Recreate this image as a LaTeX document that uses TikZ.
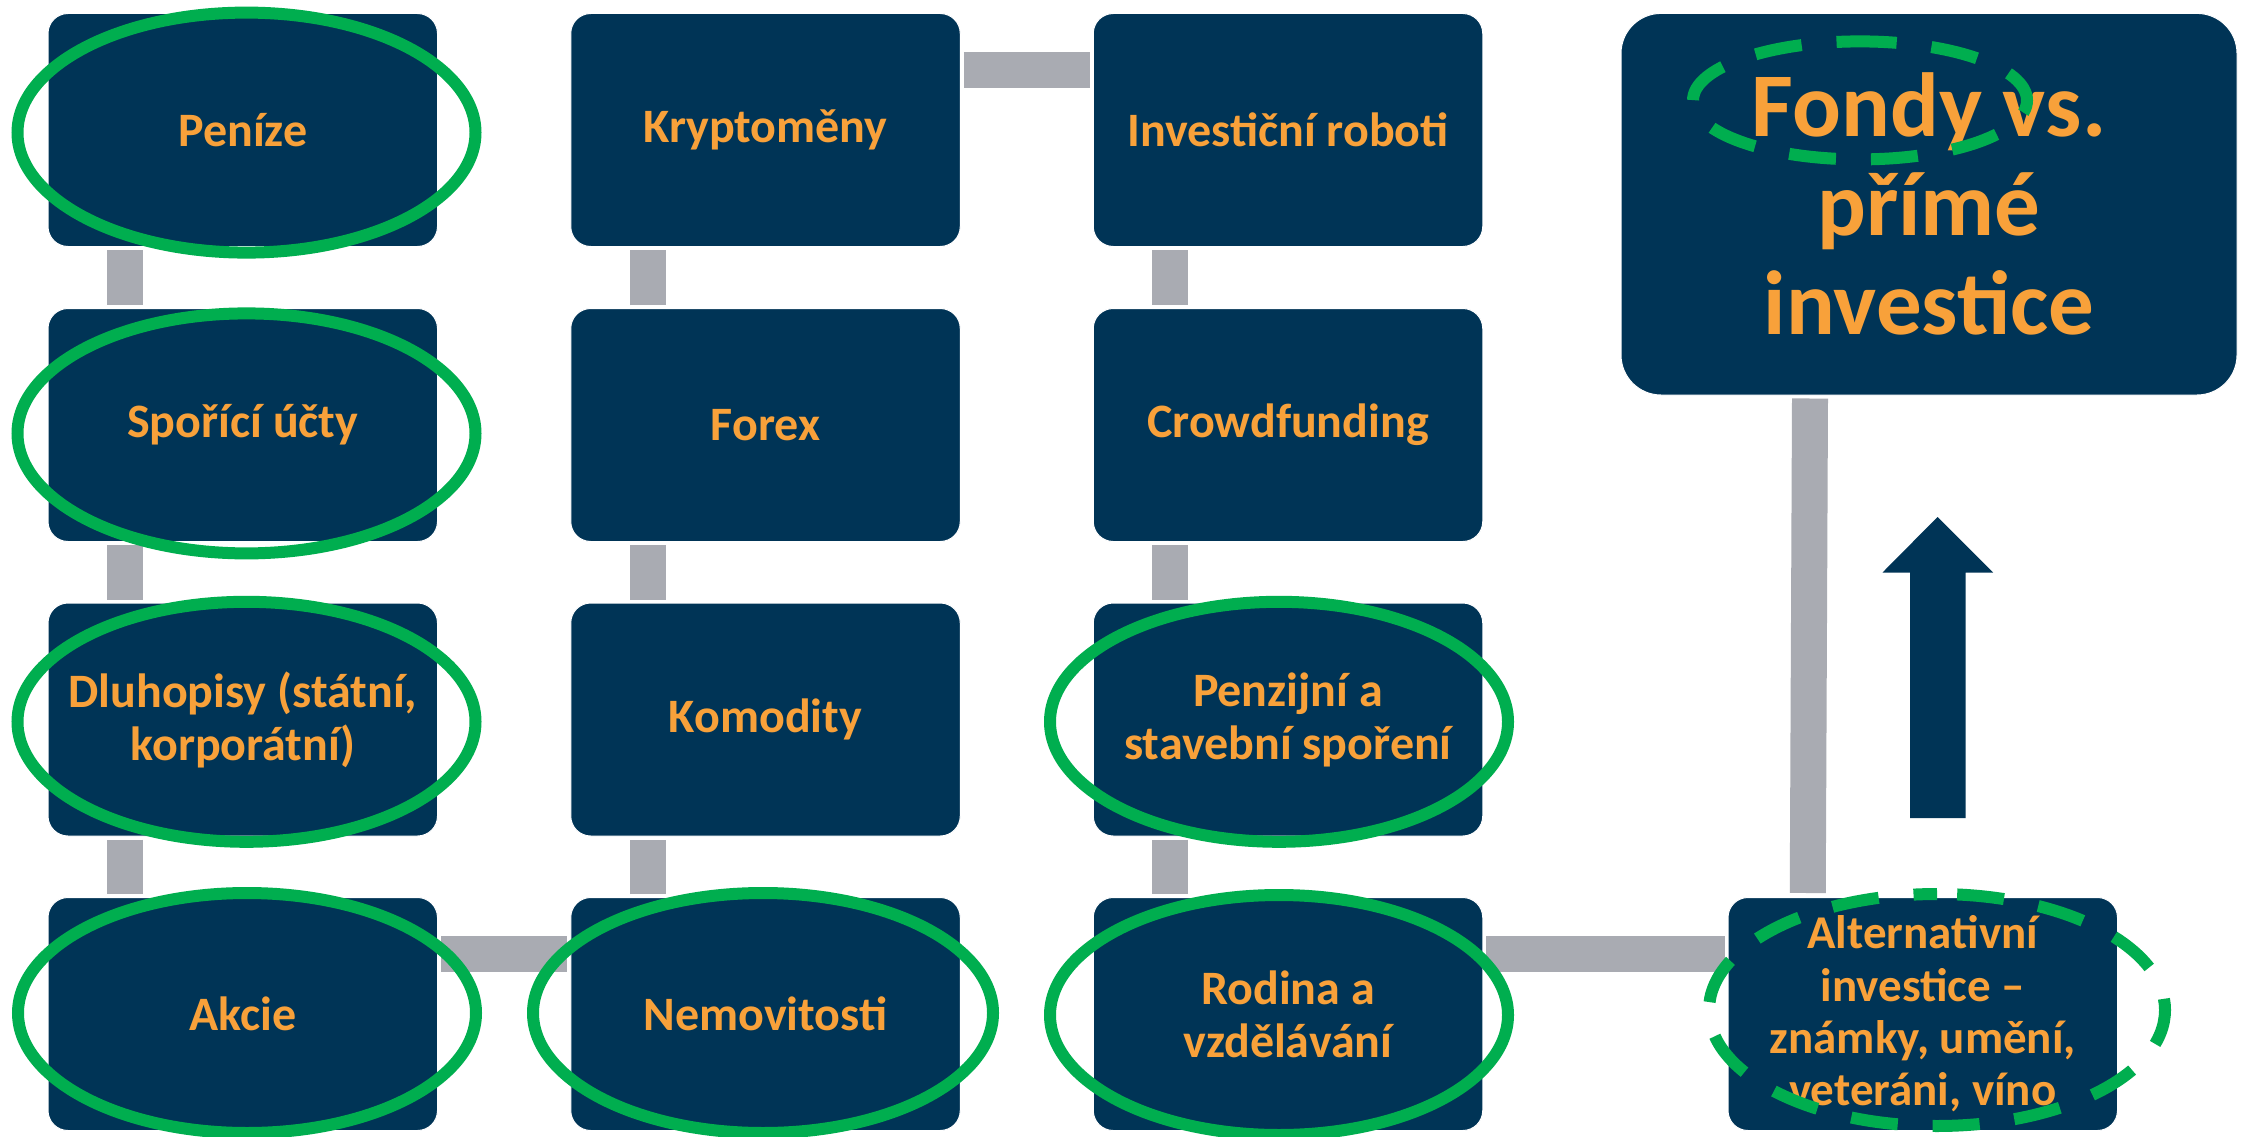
\documentclass[tikz,border=0pt]{standalone}
\usepackage{fontspec}
\setmainfont{Carlito}
\usetikzlibrary{calc}
\definecolor{navy}{HTML}{003456}
\definecolor{orng}{HTML}{F8A13A}
\definecolor{grn}{HTML}{00AE4F}
\definecolor{conn}{HTML}{A9ABB2}
\begin{document}
\begin{tikzpicture}[x=1pt,y=-1pt,
  box/.style={rectangle, rounded corners=20pt, fill=navy, draw=white, line width=1pt,
    minimum width=389.5pt, minimum height=233pt, inner sep=0pt, text=orng, align=center,
    font=\bfseries\fontsize{48}{53}\selectfont},
  link/.style={draw=conn, line width=36pt, line cap=butt},
  ring/.style={draw=grn, line width=12pt},
  dring/.style={draw=grn, line width=12pt, dash pattern=on 47pt off 35pt, dash phase=23.5pt}]
\clip (0,0) rectangle (2241,1137);
\fill[white] (0,0) rectangle (2241,1137);

% boxes
\node[box] (penize) at (242.75,130) {Peníze};
\node[box] (sporici) at (242.75,425) {Spořící účty};
\node[box] (dluhopisy) at (242.75,719.5) {Dluhopisy (státní,\\korporátní)};
\node[box] (akcie) at (242.75,1014) {Akcie};
\node[box] (krypto) at (765.5,130) {Kryptoměny};
\node[box] (forex) at (765.5,425) {Forex};
\node[box] (komodity) at (765.5,719.5) {Komodity};
\node[box] (nemovitosti) at (765.5,1014) {Nemovitosti};
\node[box] (roboti) at (1288,130) {Investiční roboti};
\node[box] (crowd) at (1288,425) {Crowdfunding};
\node[box] (penzijni) at (1288,719.5) {Penzijní a\\stavební spoření};
\node[box] (rodina) at (1288,1014) {Rodina a\\vzdělávání};
\node[box, font=\bfseries\fontsize{47}{52.4}\selectfont] (alt) at (1922.75,1014)
  {Alternativní\\investice –\\známky, umění,\\veteráni, víno};
\node[box, minimum width=616pt, minimum height=381.6pt, rounded corners=40pt,
  font=\bfseries\fontsize{91}{99}\selectfont] (fondy) at (1929,204.2)
  {Fondy vs.\\přímé\\investice};

% connectors
\draw[link] ($(penize.south)+(-118,3)$) -- ($(sporici.north)+(-118,-3)$);
\draw[link] ($(sporici.south)+(-118,3)$) -- ($(dluhopisy.north)+(-118,-3)$);
\draw[link] ($(dluhopisy.south)+(-118,3)$) -- ($(akcie.north)+(-118,-3)$);
\draw[link] ($(akcie.east)+(3,-60)$) -- ($(nemovitosti.west)+(-3,-60)$);
\draw[link] ($(nemovitosti.north)+(-118,-3)$) -- ($(komodity.south)+(-118,3)$);
\draw[link] ($(komodity.north)+(-118,-3)$) -- ($(forex.south)+(-118,3)$);
\draw[link] ($(forex.north)+(-118,-3)$) -- ($(krypto.south)+(-118,3)$);
\draw[link] ($(krypto.east)+(3,-60)$) -- ($(roboti.west)+(-3,-60)$);
\draw[link] ($(roboti.south)+(-118,3)$) -- ($(crowd.north)+(-118,-3)$);
\draw[link] ($(crowd.south)+(-118,3)$) -- ($(penzijni.north)+(-118,-3)$);
\draw[link] ($(penzijni.south)+(-118,3)$) -- ($(rodina.north)+(-118,-3)$);
\draw[link] ($(rodina.east)+(3,-60)$) -- ($(alt.west)+(-3,-60)$);
\draw[link] ($(alt.north)+(-115,-4)$) -- ($(fondy.south)+(-119,3)$);

% block arrow
\fill[navy] (1910,818) -- (1910,572.5) -- (1882.5,572.5) -- (1937.5,517)
  -- (1993,572.5) -- (1965.5,572.5) -- (1965.5,818) -- cycle;

% green rings
\draw[ring] (246.5,132.6) ellipse [x radius=229pt, y radius=120pt];
\draw[ring] (246.5,433.4) ellipse [x radius=229pt, y radius=120pt];
\draw[ring] (246.5,721.8) ellipse [x radius=229pt, y radius=120pt];
\draw[ring] (247,1013) ellipse [x radius=229pt, y radius=120pt];
\draw[ring] (763,1013) ellipse [x radius=230pt, y radius=120pt];
\draw[ring] (1279,721.8) ellipse [x radius=229pt, y radius=120pt];
\draw[ring] (1279,1015) ellipse [x radius=229pt, y radius=120pt];
\draw[dring] (1860,41.4) arc [start angle=90, end angle=450, x radius=167pt, y radius=59pt];
\draw[dring] (1937,894) arc [start angle=90, end angle=450, x radius=228pt, y radius=116pt];
\end{tikzpicture}
\end{document}
